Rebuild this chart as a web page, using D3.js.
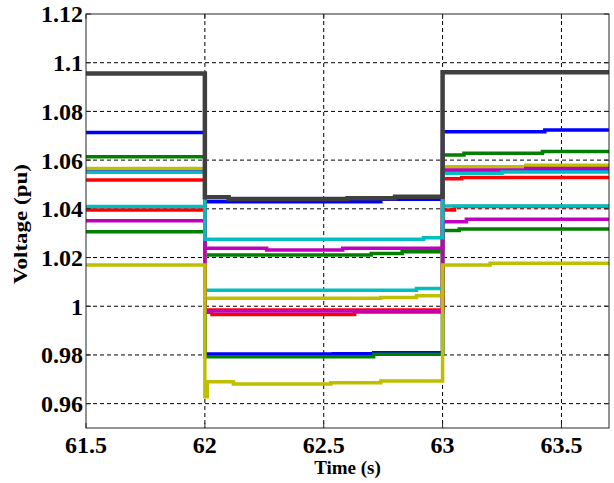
<!DOCTYPE html>
<html><head><meta charset="utf-8">
<script src="https://cdn.jsdelivr.net/npm/d3@7"></script>
<style>html,body{margin:0;padding:0;background:#fff;}svg{display:block;}</style>
</head><body>
<script>
// ---- data (time s, voltage pu) step points ----
const xTicks = [61.5, 62, 62.5, 63, 63.5];
const yTicks = [0.96, 0.98, 1, 1.02, 1.04, 1.06, 1.08, 1.1, 1.12];
const yTickLabels = ["0.96", "0.98", "1", "1.02", "1.04", "1.06", "1.08", "1.1", "1.12"];

const red2 = [[61.5,1.0395],[62,0.9985],[63,1.0395],[63.05,1.0410],[63.7,1.0410]];
const red1 = [[61.5,1.0518],[62,0.9975],[62.03,0.9966],[62.63,0.9976],[63,1.0524],[63.08,1.0529],[63.7,1.0529]];
const blue2 = [[61.5,1.0553],[62,0.9804],[62.54,0.9805],[62.71,0.9809],[63,1.0555],[63.7,1.0555]];
const green2 = [[61.5,1.0306],[62,0.9793],[62.71,0.9803],[63,1.0311],[63.07,1.0317],[63.7,1.0317]];
const green1 = [[61.5,1.0614],[62,1.0210],[62.70,1.0217],[62.83,1.0224],[63,1.0621],[63.09,1.0628],[63.42,1.0635],[63.7,1.0635]];
const blue1 = [[61.5,1.0713],[62,1.0429],[62.74,1.0439],[63,1.0717],[63.43,1.0724],[63.7,1.0724]];
const cyanB = [[61.5,1.0410],[62,1.0066],[62.89,1.0073],[63,1.0412],[63.7,1.0412]];
const yellow1 = [[61.5,1.0566],[62,1.0033],[62.74,1.0036],[62.89,1.0043],[63,1.0573],[63.35,1.0579],[63.7,1.0579]];
const magenta1 = [[61.5,1.0550],[62,0.9980],[63,1.0559],[63.35,1.0566],[63.7,1.0566]];
const magenta2 = [[61.5,1.0351],[62,1.0238],[62.26,1.0231],[62.58,1.0238],[63,1.0347],[63.10,1.0357],[63.7,1.0357]];
const cyanA = [[61.5,1.0550],[62,1.0275],[62.92,1.0281],[63,1.0546],[63.25,1.0551],[63.7,1.0551]];
const yellow2 = [[61.5,1.0169],[62,0.9628],[62.01,0.9690],[62.12,0.9681],[62.53,0.9686],[62.74,0.9693],[63,1.0169],[63.2,1.0176],[63.7,1.0176]];
const gray = [[61.5,1.0956],[62,1.0448],[62.1,1.0440],[62.6,1.0443],[62.8,1.0450],[63,1.0961],[63.7,1.0961]];

const seriesData = [red2, red1, blue2, green2, green1, blue1, cyanB, yellow1, magenta1, magenta2, cyanA, yellow2, gray];
const seriesColors = ["#ff0000","#ff0000","#0000ff","#007f00","#007f00","#0000ff","#00bfbf","#bfbf00","#bf00bf","#bf00bf","#00bfbf","#bfbf00","#404040"];

// ---- layout ----
const W = 614, H = 483;
const L = 86, R = 609, T = 14, B = 428;

const svg = d3.select("body").append("svg").attr("width", W).attr("height", H);

const x = d3.scaleLinear().domain([61.5, 63.7]).range([L, R]);
const y = d3.scaleLinear().domain([0.95, 1.12]).range([B, T]);

// grid
const g = svg.append("g");
g.selectAll("line.gx").data(xTicks.filter(d => d > 61.5)).enter().append("line")
  .attr("x1", d => x(d)).attr("x2", d => x(d)).attr("y1", T).attr("y2", B)
  .attr("stroke", "#000").attr("stroke-width", 1).attr("stroke-dasharray", "4,3");
g.selectAll("line.gy").data(yTicks.filter(d => d < 1.12)).enter().append("line")
  .attr("x1", L).attr("x2", R).attr("y1", d => y(d)).attr("y2", d => y(d))
  .attr("stroke", "#000").attr("stroke-width", 1).attr("stroke-dasharray", "4,3");

// lines
const line = d3.line().x(d => x(d[0])).y(d => y(d[1])).curve(d3.curveStepAfter);
seriesData.forEach((s, i) => {
  svg.append("path").datum(s).attr("d", line)
    .attr("fill", "none").attr("stroke", seriesColors[i])
    .attr("stroke-width", i === seriesData.length - 1 ? 4.5 : 3.5)
    .attr("stroke-linejoin", "miter").attr("stroke-linecap", "butt");
});

// frame
svg.append("rect").attr("x", L).attr("y", T).attr("width", R - L).attr("height", B - T)
  .attr("fill", "none").attr("stroke", "#262626").attr("stroke-width", 1);

// ticks (inward)
const tk = svg.append("g").attr("stroke", "#262626").attr("stroke-width", 1);
xTicks.forEach(d => {
  tk.append("line").attr("x1", x(d)).attr("x2", x(d)).attr("y1", B).attr("y2", B - 5);
  tk.append("line").attr("x1", x(d)).attr("x2", x(d)).attr("y1", T).attr("y2", T + 5);
});
yTicks.forEach(d => {
  tk.append("line").attr("x1", L).attr("x2", L + 5).attr("y1", y(d)).attr("y2", y(d));
  tk.append("line").attr("x1", R).attr("x2", R - 5).attr("y1", y(d)).attr("y2", y(d));
});

// tick labels
const font = "'Liberation Serif', 'Times New Roman', serif";
svg.append("g").selectAll("text").data(xTicks).enter().append("text")
  .attr("x", d => x(d)).attr("y", 453)
  .attr("text-anchor", "middle").attr("font-family", font).attr("font-weight", "bold")
  .attr("font-size", 24).attr("fill", "#000").text(d => String(d));
svg.append("g").selectAll("text").data(yTicks).enter().append("text")
  .attr("x", 83).attr("y", d => y(d)).attr("dy", "0.35em")
  .attr("text-anchor", "end").attr("font-family", font).attr("font-weight", "bold")
  .attr("font-size", 24).attr("fill", "#000").text((d, i) => yTickLabels[i]);

// axis titles
svg.append("text").attr("x", (L + R) / 2).attr("y", 474)
  .attr("text-anchor", "middle").attr("font-family", font).attr("font-weight", "bold")
  .attr("font-size", 19).attr("fill", "#000").text("Time (s)");
svg.append("text").attr("transform", "translate(27,224) rotate(-90)")
  .attr("text-anchor", "middle").attr("font-family", font).attr("font-weight", "bold")
  .attr("font-size", 19).attr("textLength", 120).attr("lengthAdjust", "spacingAndGlyphs")
  .attr("fill", "#000").text("Voltage (pu)");
</script>
</body></html>
